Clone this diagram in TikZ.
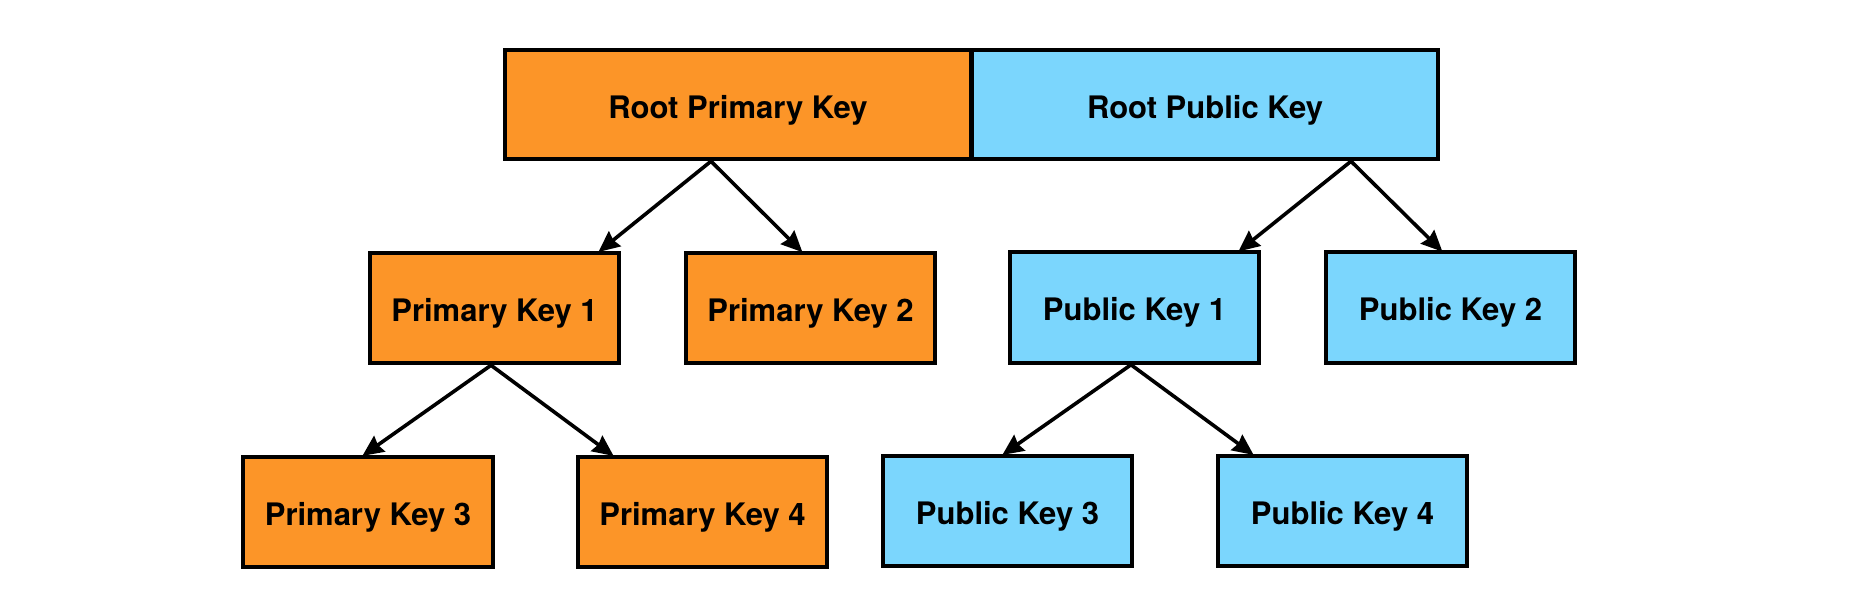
\documentclass[tikz,border=0pt]{standalone}
\usepackage{fontspec}
\setmainfont{TeX Gyre Heros}
\usetikzlibrary{arrows.meta}
\definecolor{keyorange}{RGB}{252,149,40}
\definecolor{keyblue}{RGB}{123,214,253}
\begin{document}
\begin{tikzpicture}[x=1pt,y=-1pt,
  keybox/.style={draw=black, line width=4pt, rectangle, inner sep=0pt,
    minimum width=249.5pt, minimum height=110.5pt, text height=26pt, text depth=0pt,
    font=\fontsize{31}{37}\selectfont\bfseries},
  rootbox/.style={keybox, minimum width=466.5pt, minimum height=109.5pt, text height=27pt},
  priv/.style={fill=keyorange},
  pub/.style={fill=keyblue},
  conn/.style={draw=black, line width=3.6pt, shorten >=-2pt,
    -{Stealth[length=21pt, width=19pt, inset=2pt]}}
]
\useasboundingbox (0,0) rectangle (1872,606);
% root
\node[rootbox, priv] (rootpriv) at (738,104.5) {Root Primary Key};
\node[rootbox, pub]  (rootpub)  at (1205,104.5) {Root Public Key};
% level 1
\node[keybox, priv] (pk1) at (494.5,308) {Primary Key 1};
\node[keybox, priv] (pk2) at (810.5,308) {Primary Key 2};
\node[keybox, pub]  (pub1) at (1134.5,307.5) {Public Key 1};
\node[keybox, pub]  (pub2) at (1450.5,307.5) {Public Key 2};
% level 2
\node[keybox, priv] (pk3) at (368,512) {Primary Key 3};
\node[keybox, priv] (pk4) at (702.5,512) {Primary Key 4};
\node[keybox, pub]  (pub3) at (1007.5,511) {Public Key 3};
\node[keybox, pub]  (pub4) at (1342.5,511) {Public Key 4};
% connectors
\draw[conn] ([xshift=-27pt]rootpriv.south) -- ([xshift=105.5pt]pk1.north);
\draw[conn] ([xshift=-27pt]rootpriv.south) -- ([xshift=-9.5pt]pk2.north);
\draw[conn] ([xshift=146pt]rootpub.south) -- ([xshift=105.5pt]pub1.north);
\draw[conn] ([xshift=146pt]rootpub.south) -- ([xshift=-9.5pt]pub2.north);
\draw[conn] ([xshift=-3.5pt]pk1.south) -- ([xshift=-4pt]pk3.north);
\draw[conn] ([xshift=-3.5pt]pk1.south) -- ([xshift=-90.5pt]pk4.north);
\draw[conn] ([xshift=-3.5pt]pub1.south) -- ([xshift=-3.5pt]pub3.north);
\draw[conn] ([xshift=-3.5pt]pub1.south) -- ([xshift=-90.5pt]pub4.north);
\end{tikzpicture}
\end{document}
